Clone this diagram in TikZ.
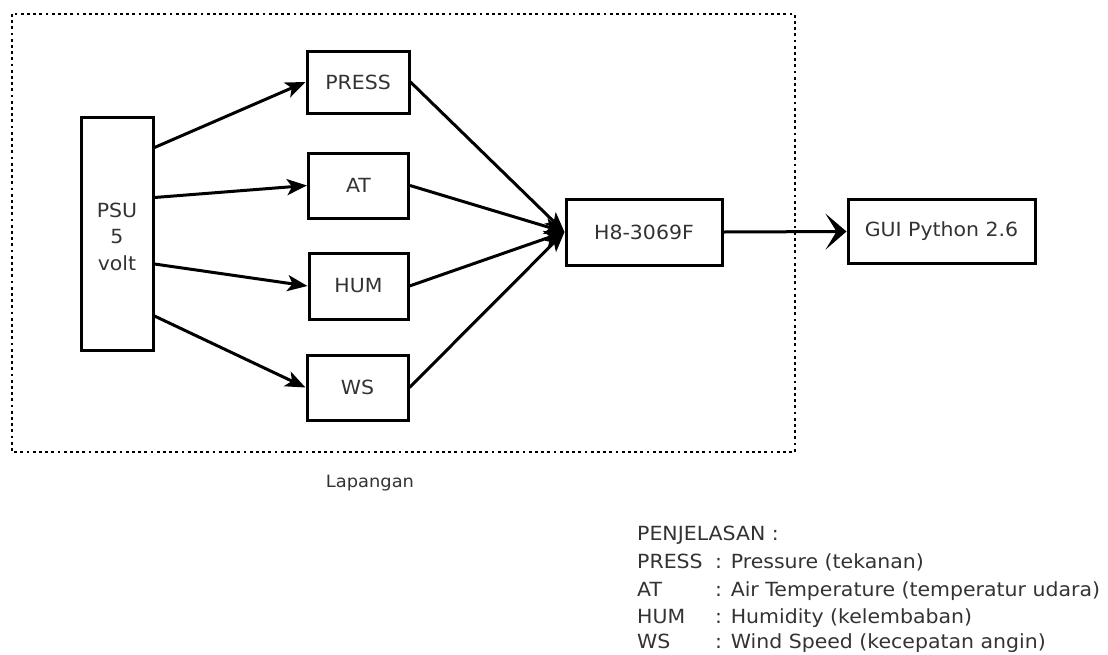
\documentclass[tikz,border=0pt]{standalone}
\usepackage{fontspec}
\setmainfont{DejaVu Sans}[FakeStretch=1.05]
\usetikzlibrary{arrows.meta,calc}
\begin{document}
\begin{tikzpicture}[x=1pt,y=-1pt,
  box/.style={draw=black,line width=3pt,inner sep=0pt,font=\fontsize{19.5}{22}\selectfont,text=black!80},
  arr/.style={line width=3pt,-{Stealth[length=20pt,width=16pt,inset=5pt]}},
  bigarr/.style={line width=3pt,-{Stealth[length=21pt,width=36pt,inset=11pt]}},
  txt/.style={font=\fontsize{19.5}{22}\selectfont,text=black!80,inner sep=0pt},
  lg/.style={font=\fontsize{19.5}{22}\selectfont,text=black!80,inner sep=0pt,anchor=base west}]
\useasboundingbox (0,0) rectangle (1108,654);
\draw[line width=2.8pt,dash pattern=on 2.8pt off 3.4pt] (12,14) rectangle (795,452);

\node[box,minimum width=72pt,minimum height=233pt] (psu) at (117,233.5) {};
\node[txt,align=center,font=\fontsize{19.5}{26.5}\selectfont,anchor=base] (psut) at (117,270) {PSU\\5\\volt};
\node[box,minimum width=102pt,minimum height=62pt] (press) at (358,82) {PRESS};
\node[box,minimum width=100pt,minimum height=65pt] (at) at (358.5,185.5) {AT};
\node[box,minimum width=99pt,minimum height=66pt] (hum) at (358.5,286) {HUM};
\node[box,minimum width=101pt,minimum height=65pt] (ws) at (357.5,387.5) {WS};
\node[box,minimum width=156pt,minimum height=66pt] (h8) at (644,232) {H8-3069F};
\node[box,minimum width=187pt,minimum height=64pt] (gui) at (941.5,231.5) {GUI Python 2.6};

\coordinate (p1) at ($(psu.north east)+(0,32)$);
\coordinate (p2) at ($(psu.north east)+(0,82)$);
\coordinate (p3) at ($(psu.north east)+(0,148.5)$);
\coordinate (p4) at ($(psu.north east)+(0,200.5)$);
\draw[arr] (p1) -- (press.west);
\draw[arr] (p2) -- (at.west);
\draw[arr] (p3) -- (hum.west);
\draw[arr] (p4) -- (ws.west);

\draw[arr] (press.east) -- (h8.west);
\draw[arr] (at.east) -- (h8.west);
\draw[arr] (hum.east) -- (h8.west);
\draw[arr] (ws.east) -- (h8.west);

\draw[bigarr] (h8.east) -- (gui.west);

\node[txt,anchor=base,font=\fontsize{17}{20}\selectfont] (lap) at (370,487) {Lapangan};

\node[lg] (l0) at (637,540) {PENJELASAN :};
\node[lg] (l1a) at (637,568) {PRESS};
\node[lg] (l1b) at (715,568) {: Pressure (tekanan)};
\node[lg] (l2a) at (637,596) {AT};
\node[lg] (l2b) at (715,596) {: Air Temperature (temperatur udara)};
\node[lg] (l3a) at (637,623) {HUM};
\node[lg] (l3b) at (715,623) {: Humidity (kelembaban)};
\node[lg] (l4a) at (637,648) {WS};
\node[lg] (l4b) at (715,648) {: Wind Speed (kecepatan angin)};
\end{tikzpicture}
\end{document}
